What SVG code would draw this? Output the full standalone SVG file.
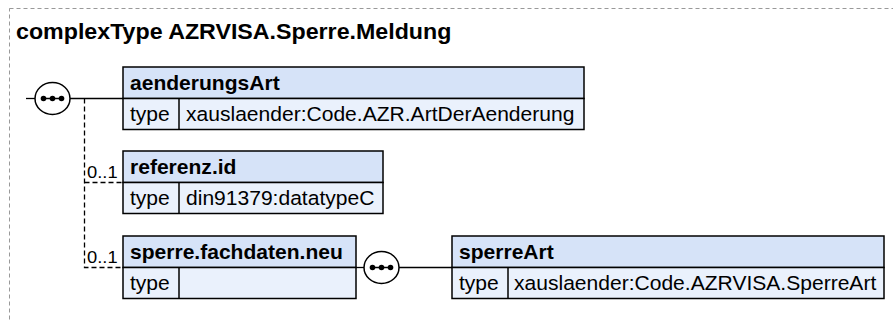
<svg xmlns="http://www.w3.org/2000/svg" width="893" height="320" viewBox="0 0 893 320">
<style>
  text { font-family: "Liberation Sans", Arial, sans-serif; fill: #000; }
  .title { font-size: 21.5px; font-weight: bold; }
  .hd { font-size: 19.5px; font-weight: bold; }
  .tx { font-size: 19.5px; }
  .occ { font-size: 17px; }
  .hfill { fill: #d6e3f8; stroke: #000; stroke-width: 1.5; }
  .rfill { fill: #eaf1fc; stroke: #000; stroke-width: 1.5; }
  .sep { stroke: #000; stroke-width: 1.5; }
  .line { stroke: #000; stroke-width: 1.3; fill: none; }
  .dash { stroke: #000; stroke-width: 1.3; fill: none; stroke-dasharray: 5 3; }
  .seq { fill: #fff; stroke: #000; stroke-width: 1.5; }
  .border { fill: none; stroke: #999; stroke-width: 1; stroke-dasharray: 4 3; }
</style>
<defs>
  <g id="dots">
    <line x1="-9" y1="0" x2="9" y2="0" stroke="#000" stroke-width="1.5"/>
    <circle cx="-9" cy="0" r="2.8" fill="#000"/>
    <circle cx="0" cy="0" r="2.8" fill="#000"/>
    <circle cx="9" cy="0" r="2.8" fill="#000"/>
  </g>
</defs>
<rect class="border" x="9.5" y="8.5" width="900" height="330"/>
<text class="title" transform="matrix(1.08 0 0 1 16 39)">complexType AZRVISA.Sperre.Meldung</text>

<g id="connectors">
  <line class="line" x1="26" y1="98.5" x2="35" y2="98.5"/>
  <line class="line" x1="70" y1="98.5" x2="123" y2="98.5"/>
  <polyline class="dash" points="84.5,98.5 84.5,267.5 123,267.5"/>
  <line class="dash" x1="84.5" y1="182.5" x2="123" y2="182.5"/>
  <line class="line" x1="356" y1="267.5" x2="364" y2="267.5"/>
  <line class="line" x1="399" y1="267.5" x2="452" y2="267.5"/>
  <text class="occ" transform="matrix(1.08 0 0 1 87 178)">0..1</text>
  <text class="occ" transform="matrix(1.08 0 0 1 87 263)">0..1</text>
</g>

<g id="seq1">
  <ellipse class="seq" cx="52.5" cy="98.5" rx="17.5" ry="16"/>
  <use href="#dots" x="52.5" y="98.5"/>
</g>

<g id="aenderungsArt">
  <rect class="hfill" x="123" y="67" width="461" height="31.5"/>
  <rect class="rfill" x="123" y="98.5" width="461" height="31"/>
  <line class="sep" x1="179" y1="98.5" x2="179" y2="129.5"/>
  <text class="hd" transform="matrix(1.08 0 0 1 130 90)">aenderungsArt</text>
  <text class="tx" transform="matrix(1.08 0 0 1 130 121)">type</text>
  <text class="tx" transform="matrix(1.08 0 0 1 186 121)">xauslaender:Code.AZR.ArtDerAenderung</text>
</g>

<g id="referenz.id">
  <rect class="hfill" x="123" y="151" width="260" height="31.5"/>
  <rect class="rfill" x="123" y="182.5" width="260" height="31"/>
  <line class="sep" x1="179" y1="182.5" x2="179" y2="213.5"/>
  <text class="hd" transform="matrix(1.08 0 0 1 130 174)">referenz.id</text>
  <text class="tx" transform="matrix(1.08 0 0 1 130 205)">type</text>
  <text class="tx" transform="matrix(1.08 0 0 1 186 205)">din91379:datatypeC</text>
</g>

<g id="sperre.fachdaten.neu">
  <rect class="hfill" x="123" y="236" width="233" height="31.5"/>
  <rect class="rfill" x="123" y="267.5" width="233" height="31"/>
  <line class="sep" x1="179" y1="267.5" x2="179" y2="298.5"/>
  <text class="hd" transform="matrix(1.08 0 0 1 130 259)">sperre.fachdaten.neu</text>
  <text class="tx" transform="matrix(1.08 0 0 1 130 290)">type</text>
</g>

<g id="seq2">
  <ellipse class="seq" cx="381.5" cy="267.5" rx="17.5" ry="16"/>
  <use href="#dots" x="381.5" y="267.5"/>
</g>

<g id="sperreArt">
  <rect class="hfill" x="452" y="236" width="432" height="31.5"/>
  <rect class="rfill" x="452" y="267.5" width="432" height="31"/>
  <line class="sep" x1="508" y1="267.5" x2="508" y2="298.5"/>
  <text class="hd" transform="matrix(1.08 0 0 1 459 259)">sperreArt</text>
  <text class="tx" transform="matrix(1.08 0 0 1 459 290)">type</text>
  <text class="tx" transform="matrix(1.08 0 0 1 514 290)">xauslaender:Code.AZRVISA.SperreArt</text>
</g>
</svg>
